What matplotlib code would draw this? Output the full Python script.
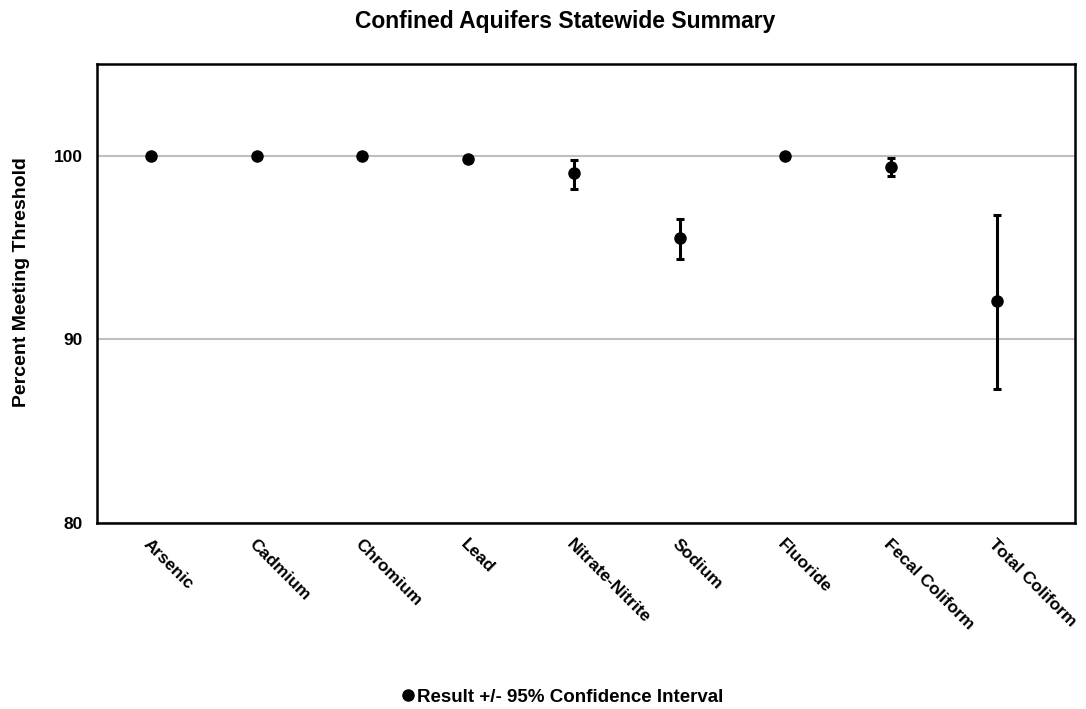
import numpy as np
import matplotlib
matplotlib.use("Agg")
import matplotlib.pyplot as plt
from matplotlib.lines import Line2D

# Statewide summary values, percent meeting threshold
categories = ["Arsenic", "Cadmium", "Chromium", "Lead", "Nitrate-Nitrite",
              "Sodium", "Fluoride", "Fecal Coliform", "Total Coliform"]
result = [100.0, 100.0, 100.0, 99.85, 99.05, 95.5, 100.0, 99.4, 92.1]
ci_low = [100.0, 100.0, 100.0, 99.65, 98.2, 94.4, 100.0, 98.9, 87.3]
ci_high = [100.0, 100.0, 100.0, 100.0, 99.75, 96.55, 100.0, 99.9, 96.8]
yticks = [80, 90, 100]

plt.rcParams["font.family"] = ["Liberation Sans", "DejaVu Sans"]
plt.rcParams["font.weight"] = "bold"

x = np.arange(len(categories))
res = np.array(result)
err = np.vstack([res - np.array(ci_low), np.array(ci_high) - res])

fig = plt.figure(figsize=(10.86, 7.09), dpi=100)
ax = fig.add_axes([0.0893, 0.2623, 0.9007, 0.6474])

ax.errorbar(x, res, yerr=err, fmt="o", color="black", markersize=8,
            elinewidth=2.2, capsize=3, capthick=2.2, zorder=3)

ax.set_xlim(-0.51, len(categories) - 0.26)
ax.set_ylim(80, 105)
ax.set_yticks(yticks)
ax.set_yticklabels([str(t) for t in yticks], fontsize=12.5, fontweight="bold")
ax.yaxis.grid(True, color="#bfbfbf", linewidth=1.5, zorder=0)
ax.set_axisbelow(True)
ax.tick_params(axis="y", length=0, pad=10)
ax.tick_params(axis="x", length=0, pad=10)

ax.set_xticks(x)
ax.set_xticklabels(categories, rotation=-45, ha="left", rotation_mode="anchor",
                   fontsize=12.5, fontweight="bold")

for s in ax.spines.values():
    s.set_linewidth(1.8)
    s.set_color("black")

ax.set_ylabel("Percent Meeting Threshold", fontsize=14, fontweight="bold")
ax.yaxis.set_label_coords(-0.068, 0.525)
fig.text(0.52, 0.969, "Confined Aquifers Statewide Summary", fontsize=16.5,
         fontweight="bold", ha="center", va="center")

handle = Line2D([], [], marker="o", color="black", linestyle="none", markersize=8)
fig.legend([handle], ["Result +/- 95% Confidence Interval"], loc="center",
           bbox_to_anchor=(0.512, 0.017), frameon=False, handletextpad=-0.5,
           prop={"size": 13.5, "weight": "bold"})

fig.savefig("out.png", dpi=100)
